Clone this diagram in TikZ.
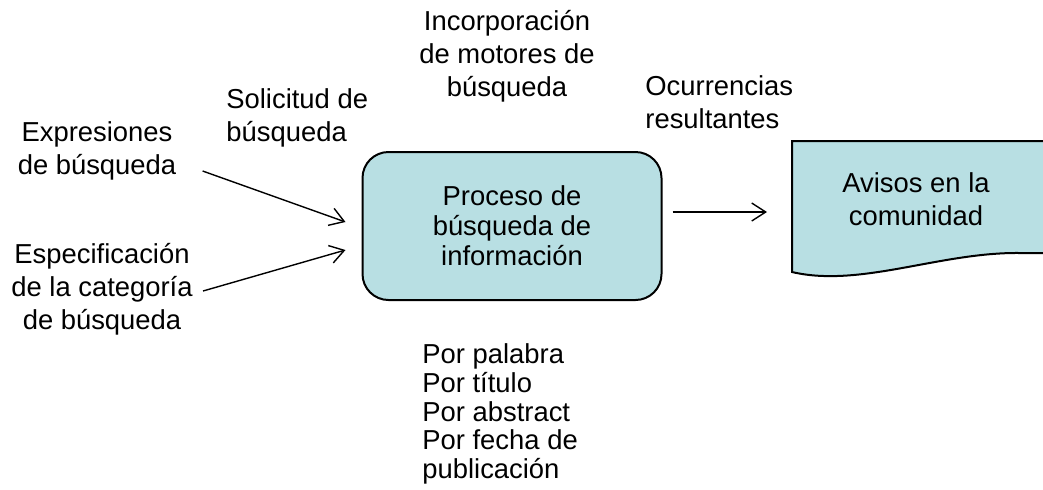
\documentclass[tikz,border=0pt]{standalone}
\usepackage{fontspec}
\setmainfont{Liberation Sans}
\usetikzlibrary{arrows.meta, positioning}
\definecolor{cajaazul}{HTML}{B8DFE3}

\begin{document}
\begin{tikzpicture}[x=0.5pt, y=-0.5pt,
  texto/.style={font=\fontsize{13.7}{16.5}\selectfont, inner sep=0pt, align=center},
  flecha/.style={-{Straight Barb[length=7pt,width=9pt]}, line width=0.7pt}]
\useasboundingbox (0,0) rectangle (1043,489);
% textos de entrada
\node[texto] (expr) at (97,151) {Expresiones\\de búsqueda};
\node[texto] (categ) at (102,289) {Especificación\\de la categoría\\de búsqueda};
\node[texto, align=left, anchor=west] (solic) at (226,118) {Solicitud de\\búsqueda};
\node[texto] (motores) at (507,56) {Incorporación\\de motores de\\búsqueda};
% proceso central
\node[texto, font=\fontsize{13.7}{15}\selectfont, draw, line width=1pt, fill=cajaazul,
  rounded corners=13pt, minimum width=149.5pt, minimum height=74pt]
  (proceso) at (512,226) {Proceso de\\búsqueda de\\información};
\node[texto, align=left, anchor=west] (ocurr) at (645,102) {Ocurrencias\\resultantes};
% documento de salida
\fill[cajaazul] (1050,141) -- (792,141) -- (792,272)
  .. controls (860,288) and (940,252) .. (1020,253) -- (1050,253) -- cycle;
\draw[line width=1pt] (1050,141) -- (792,141) -- (792,272)
  .. controls (860,288) and (940,252) .. (1020,253) -- (1050,253);
\node[texto] (avisos) at (916,199) {Avisos en la\\comunidad};
\coordinate (docin) at (767,212);
% criterios
\node[texto, font=\fontsize{13.7}{14.4}\selectfont, align=left, anchor=west]
  (criterios) at (422,414) {Por palabra\\Por título\\Por abstract\\Por fecha de\\publicación};
% conectores
\draw[flecha] ([xshift=13pt,yshift=-10pt]expr.east) -- ([xshift=-8pt,yshift=2pt]proceso.west);
\draw[flecha] ([xshift=5pt,yshift=-1pt]categ.east) -- ([xshift=-8pt,yshift=-12pt]proceso.west);
\draw[flecha] ([xshift=5pt]proceso.east |- docin) -- (docin);
\end{tikzpicture}
\end{document}
